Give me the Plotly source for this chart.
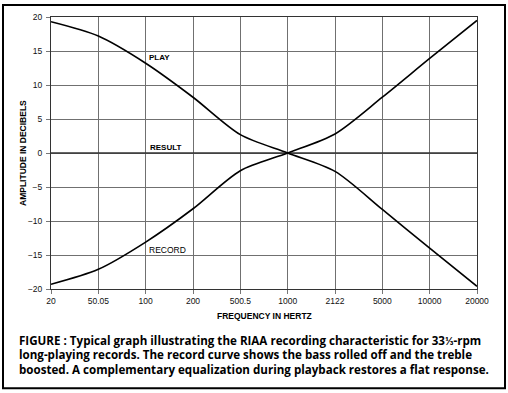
import plotly.graph_objects as go

freq_labels = ["20", "50.05", "100", "200", "500.5", "1000", "2122", "5000", "10000", "20000"]
play_db = [19.3, 17.2, 13.2, 8.2, 2.7, 0.0, -2.7, -8.3, -14.0, -19.6]
record_db = [-19.3, -17.1, -13.1, -8.2, -2.6, 0.0, 2.8, 8.2, 13.9, 19.5]
result_db = [0, 0, 0, 0, 0, 0, 0, 0, 0, 0]
y_ticks = [-20, -15, -10, -5, 0, 5, 10, 15, 20]

caption_lines = [
    "FIGURE : Typical graph illustrating the RIAA recording characteristic for 33⅓-rpm",
    "long-playing records. The record curve shows the bass rolled off and the treble",
    "boosted. A complementary equalization during playback restores a flat response.",
]

W, H = 508, 393
L, R, T, B = 51, 31, 15, 104
pw, ph = W - L - R, H - T - B

def px(x):
    return (x - L) / pw

def py(y):
    return (H - B - y) / ph

fig = go.Figure()
fig.add_trace(go.Scatter(x=freq_labels, y=result_db, mode="lines",
                         line=dict(color="#333333", width=1.3), hoverinfo="skip"))
fig.add_trace(go.Scatter(x=freq_labels, y=play_db, mode="lines", line_shape="spline",
                         line=dict(color="black", width=1.6, smoothing=0.8)))
fig.add_trace(go.Scatter(x=freq_labels, y=record_db, mode="lines", line_shape="spline",
                         line=dict(color="black", width=1.6, smoothing=0.8)))

fnt = "Liberation Sans, Arial, sans-serif"
fig.update_layout(
    width=W, height=H, margin=dict(l=L, r=R, t=T, b=B),
    paper_bgcolor="white", plot_bgcolor="white", showlegend=False,
    font=dict(family=fnt, size=9, color="#111111"),
    xaxis=dict(type="category", range=[0, 9], showgrid=True, gridcolor="#707070", gridwidth=1,
               showline=True, linecolor="#333333", linewidth=1, mirror=True,
               ticks="outside", ticklen=4, tickcolor="#777777",
               tickfont=dict(size=8.5, color="#111111"), fixedrange=True),
    yaxis=dict(range=[-20, 20], tickvals=y_ticks, showgrid=True, gridcolor="#707070", gridwidth=1,
               zeroline=False, showline=True, linecolor="#333333", linewidth=1, mirror=True,
               ticks="outside", ticklen=4, tickcolor="#777777", ticklabelstandoff=2,
               tickfont=dict(size=8.5, color="#111111"), fixedrange=True),
)

anns = [
    dict(x=2.3, y=14.0, text="<b>PLAY</b>", xref="x", yref="y", showarrow=False,
         font=dict(size=8, color="black")),
    dict(x=2.43, y=0.75, text="<b>RESULT</b>", xref="x", yref="y", showarrow=False,
         font=dict(size=8, color="black")),
    dict(x=2.47, y=-14.3, text="RECORD", xref="x", yref="y", showarrow=False,
         font=dict(size=8.5, color="black")),
    dict(x=px(23), y=0.5, text="<b>AMPLITUDE IN DECIBELS</b>", xref="paper", yref="paper",
         xanchor="center", yanchor="middle", textangle=-90, showarrow=False,
         font=dict(size=8.5, color="black")),
    dict(x=0.5, y=py(316), text="<b>FREQUENCY IN HERTZ</b>", xref="paper", yref="paper",
         xanchor="center", yanchor="middle", showarrow=False, font=dict(size=8.5, color="black")),
]
for i, line in enumerate(caption_lines):
    anns.append(dict(x=px(17), y=py(341 + 14.3 * i), text="<b>" + line + "</b>", xref="paper",
                     yref="paper", xanchor="left", yanchor="middle", align="left", showarrow=False,
                     font=dict(family="Open Sans, Lato, sans-serif", size=11.6, color="black")))
for a in anns:
    fig.add_annotation(**a)

fig.add_shape(type="rect", xref="paper", yref="paper", x0=px(3), x1=px(505), y0=py(389), y1=py(3),
              line=dict(color="black", width=2))

fig.write_html("out.html", config={"displayModeBar": False},
               post_script="document.body.style.margin='0';document.body.style.overflow='hidden';")
